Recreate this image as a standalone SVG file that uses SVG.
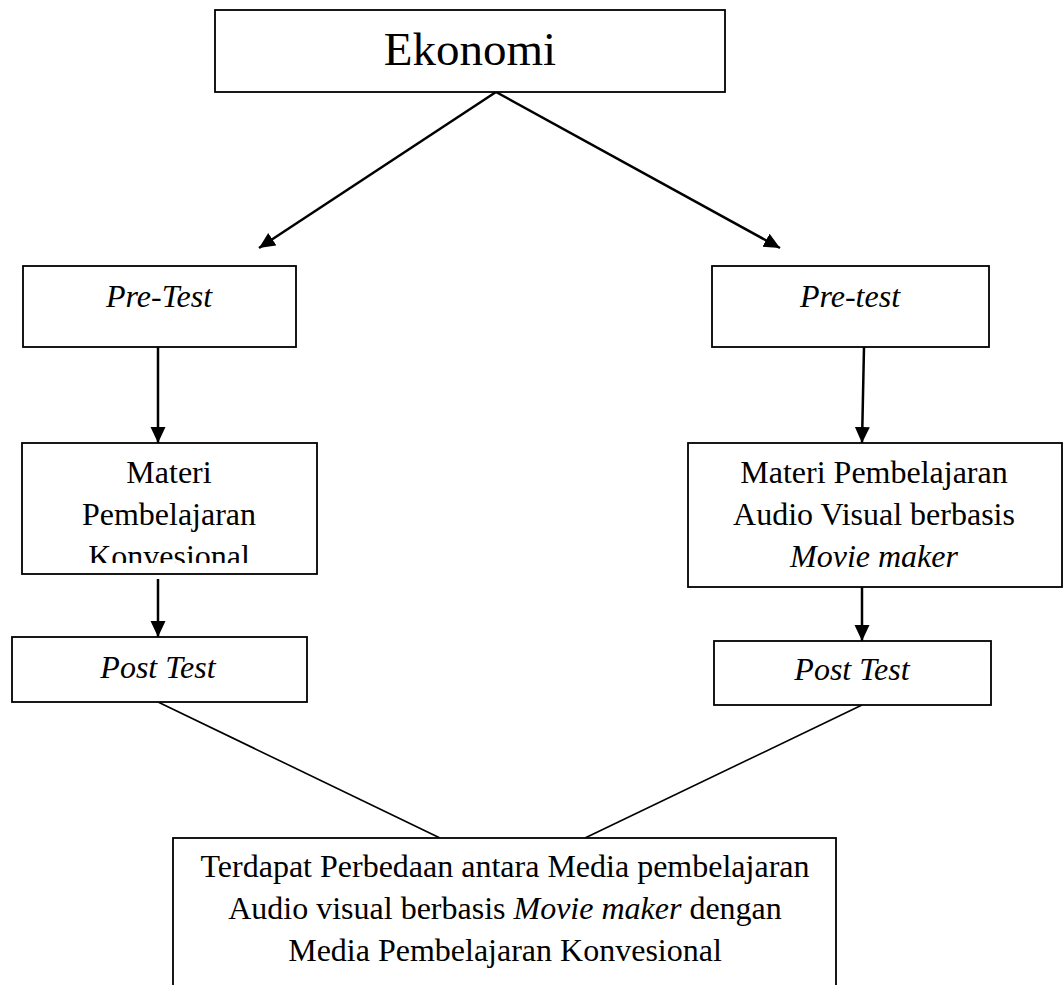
<svg xmlns="http://www.w3.org/2000/svg" width="1064" height="985" viewBox="0 0 1064 985">
<style>
.box{fill:#fff;stroke:#000;stroke-width:1.8}
.t{font-family:"Liberation Serif","Times New Roman",serif;font-size:32px;fill:#000;text-anchor:middle}
.i{font-style:italic}
.c{stroke:#000;stroke-width:2.5;fill:none}
.l{stroke:#000;stroke-width:1.6;fill:none}
</style>
<defs>
<marker id="ah" markerUnits="userSpaceOnUse" markerWidth="18" markerHeight="18" refX="16" refY="7.5" orient="auto">
<path d="M0,0 L16,7.5 L0,15 z" fill="#000"/>
</marker>
<clipPath id="clipK"><rect x="22" y="443" width="296" height="120"/></clipPath>
</defs>
<rect width="1064" height="985" fill="#fff"/>
<g id="connectors">
<path class="c" d="M496,92 L259,248" marker-end="url(#ah)"/>
<path class="c" d="M496,92 L780,248" marker-end="url(#ah)"/>
<path class="c" d="M158,347 L158,443" marker-end="url(#ah)"/>
<path class="c" d="M864,347 L862,443" marker-end="url(#ah)"/>
<path class="c" d="M158,579 L158,637" marker-end="url(#ah)"/>
<path class="c" d="M862,587 L862,641" marker-end="url(#ah)"/>
<path class="l" d="M158,702 L440,838"/>
<path class="l" d="M862,705 L585,838"/>
</g>
<g id="ekonomi">
<rect class="box" x="215" y="10" width="510" height="82"/>
<text class="t" x="470" y="65" style="font-size:47px">Ekonomi</text>
</g>
<g id="pretest-left">
<rect class="box" x="23" y="266" width="273" height="81"/>
<text class="t i" x="159" y="307">Pre-Test</text>
</g>
<g id="pretest-right">
<rect class="box" x="712" y="266" width="277" height="81"/>
<text class="t i" x="850" y="307">Pre-test</text>
</g>
<g id="materi-left">
<rect class="box" x="22" y="443" width="295" height="131"/>
<g clip-path="url(#clipK)">
<text class="t" x="169" y="483">Materi</text>
<text class="t" x="169" y="525">Pembelajaran</text>
<text class="t" x="169" y="567">Konvesional</text>
</g>
</g>
<g id="materi-right">
<rect class="box" x="688" y="443" width="374" height="144"/>
<text class="t" x="874" y="483">Materi Pembelajaran</text>
<text class="t" x="874" y="525">Audio Visual berbasis</text>
<text class="t i" x="874" y="567">Movie maker</text>
</g>
<g id="posttest-left">
<rect class="box" x="12" y="637" width="295" height="65"/>
<text class="t i" x="158" y="678">Post Test</text>
</g>
<g id="posttest-right">
<rect class="box" x="714" y="641" width="277" height="64"/>
<text class="t i" x="852" y="680">Post Test</text>
</g>
<g id="kesimpulan">
<rect class="box" x="173" y="838" width="663" height="170"/>
<text class="t" x="505" y="877">Terdapat Perbedaan antara Media pembelajaran</text>
<text class="t" x="505" y="919">Audio visual berbasis <tspan class="i">Movie maker</tspan> dengan</text>
<text class="t" x="505" y="961">Media Pembelajaran Konvesional</text>
</g>
</svg>
